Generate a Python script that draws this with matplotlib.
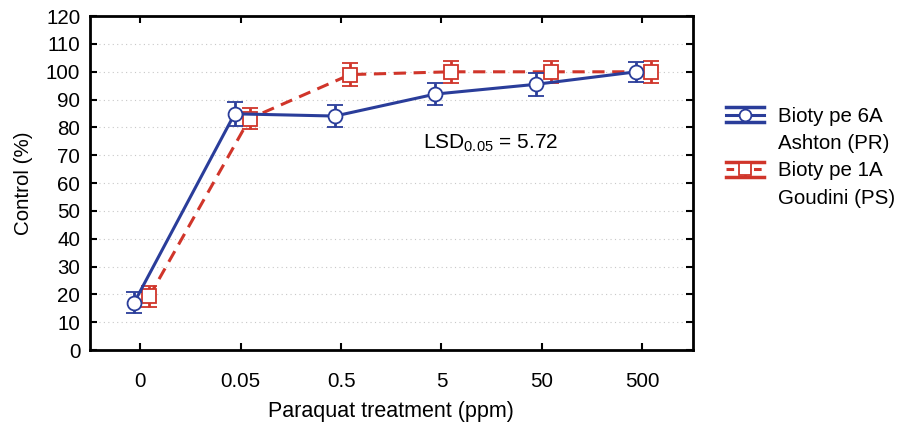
import matplotlib
matplotlib.use("Agg")
import matplotlib.pyplot as plt
from matplotlib.lines import Line2D
from matplotlib.legend_handler import HandlerBase
import numpy as np

plt.rcParams['font.family'] = ['Liberation Sans', 'DejaVu Sans']

categories = ['0', '0.05', '0.5', '5', '50', '500']
pr_values = [17.1, 84.9, 84.1, 92.0, 95.5, 100.0]
pr_err = [3.7, 4.2, 4.1, 3.8, 4.1, 3.6]
ps_values = [19.3, 83.2, 99.0, 100.0, 100.0, 100.0]
ps_err = [3.9, 3.7, 4.1, 4.0, 4.0, 4.0]
pr_label = ['Bioty pe 6A', 'Ashton (PR)']
ps_label = ['Bioty pe 1A', 'Goudini (PS)']
yticks = list(range(0, 121, 10))

blue = '#2a3d9a'
red = '#d0352a'
FS = 14.8

fig = plt.figure(figsize=(9.02, 4.36), dpi=100)
ax = fig.add_axes([0.0998, 0.197, 0.668, 0.766])

x = np.arange(len(categories))
ax.errorbar(x - 0.06, pr_values, yerr=pr_err, color=blue, lw=2.2, ls='-',
            marker='o', ms=10, mfc='white', mec=blue, mew=1.3,
            capsize=5.5, capthick=2.8, elinewidth=2, zorder=4)
ax.errorbar(x + 0.09, ps_values, yerr=ps_err, color=red, lw=2.2, ls=(0, (4, 2.5)),
            marker='s', ms=9.5, mfc='white', mec=red, mew=1.3,
            capsize=5.5, capthick=2.8, elinewidth=2, zorder=3)

ax.set_xlim(-0.5, 5.5)
ax.set_ylim(0, 120)
ax.set_xticks(x)
ax.set_xticklabels(categories)
ax.set_yticks(yticks)
ax.tick_params(axis='both', direction='in', top=True, right=True, length=5, width=1.5,
               labelsize=FS)
ax.tick_params(axis='x', pad=16)
ax.tick_params(axis='y', pad=7)
ax.yaxis.grid(True, linestyle=(0, (1, 3)), color='#c8c8c8', lw=0.8)
for s in ax.spines.values():
    s.set_linewidth(2)

ax.set_xlabel('Paraquat treatment (ppm)', fontsize=15.5, labelpad=7)
ax.set_ylabel('Control (%)', fontsize=FS, labelpad=9)

ax.text(2.82, 74.5, r'LSD$_{\mathregular{0.05}}$ = 5.72', fontsize=15, va='center', ha='left')


class EBHandle:
    def __init__(self, color, marker, ls):
        self.color = color
        self.marker = marker
        self.ls = ls


class HandlerEB(HandlerBase):
    def create_artists(self, legend, orig_handle, xdescent, ydescent, width, height,
                       fontsize, trans):
        c = orig_handle.color
        cy = height / 2 - ydescent
        x0, x1 = -xdescent, -xdescent + width
        xm = (x0 + x1) / 2
        dy = 0.36 * fontsize
        arts = []
        arts.append(Line2D([x0, x1], [cy + dy, cy + dy], color=c, lw=2.5, transform=trans))
        arts.append(Line2D([x0, x1], [cy - dy, cy - dy], color=c, lw=2.5, transform=trans))
        arts.append(Line2D([xm, xm], [cy - dy, cy + dy], color=c, lw=1.8, transform=trans))
        arts.append(Line2D([x0, x1], [cy, cy], color=c, lw=2.2, ls=orig_handle.ls,
                           transform=trans))
        arts.append(Line2D([xm], [cy], marker=orig_handle.marker, ms=8.5, mfc='white',
                           mec=c, mew=1.3, ls='none', transform=trans))
        return arts


h1 = EBHandle(blue, 'o', '-')
h2 = EBHandle(red, 's', (0, (2.5, 2)))
blank = Line2D([], [], linestyle='none')
leg = fig.legend([h1, blank, h2, blank],
                 [pr_label[0], pr_label[1], ps_label[0], ps_label[1]],
                 handler_map={EBHandle: HandlerEB()},
                 loc='upper left', bbox_to_anchor=(0.784, 0.797), frameon=False,
                 fontsize=FS, handlelength=1.85, handletextpad=0.68, labelspacing=0.4)

fig.savefig('out.png', dpi=100)
